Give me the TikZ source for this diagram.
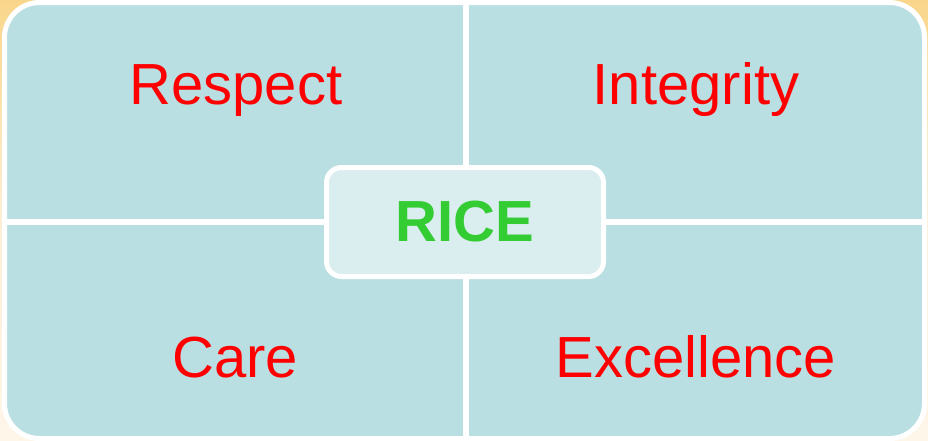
\documentclass[tikz,border=0pt]{standalone}
\usepackage{fontspec}
\setmainfont{Liberation Sans}
\definecolor{quad}{HTML}{B9DFE3}
\definecolor{centerfill}{HTML}{DAEDEF}
\definecolor{bgtop}{HTML}{F9D68A}
\definecolor{bgmid}{HTML}{FDEFD6}
\definecolor{bgbot}{HTML}{FEF6E9}
\definecolor{labelred}{HTML}{FF0000}
\definecolor{ricegreen}{HTML}{33CC33}
\tikzset{
  lbl/.style={text=labelred, font=\fontsize{58}{61}\selectfont, anchor=base, inner sep=0pt},
  divider/.style={white, line width=6pt},
  centerbox/.style={draw=white, line width=5pt, fill=centerfill, rounded corners=15pt,
    minimum width=277pt, minimum height=109pt, inner sep=0pt},
}
\begin{document}
\begin{tikzpicture}[x=1pt,y=-1pt]
\useasboundingbox (0,0) rectangle (928,440);
\shade[top color=bgtop, bottom color=bgbot, middle color=bgmid] (0,0) rectangle (928,440);
\draw[white, line width=5pt, fill=quad, rounded corners=35pt] (4.5,2.5) rectangle (924.5,438.5);
\coordinate (vt) at (466,2.5);
\coordinate (vb) at (466,438.5);
\coordinate (hl) at (4.5,222);
\coordinate (hr) at (924.5,222);
\draw[divider] (vt) -- (vb);
\draw[divider] (hl) -- (hr);
\node[centerbox] (rice) at (465,222) {};
\node[text=ricegreen, font=\bfseries\fontsize{58}{61}\selectfont, anchor=base, inner sep=0pt] (ricetext) at (465,241) {RICE};
\node[lbl] (respect) at (236,104) {Respect};
\node[lbl] (integrity) at (696,104) {Integrity};
\node[lbl] (care) at (235,377) {Care};
\node[lbl] (excellence) at (696,377) {Excellence};
\end{tikzpicture}
\end{document}
